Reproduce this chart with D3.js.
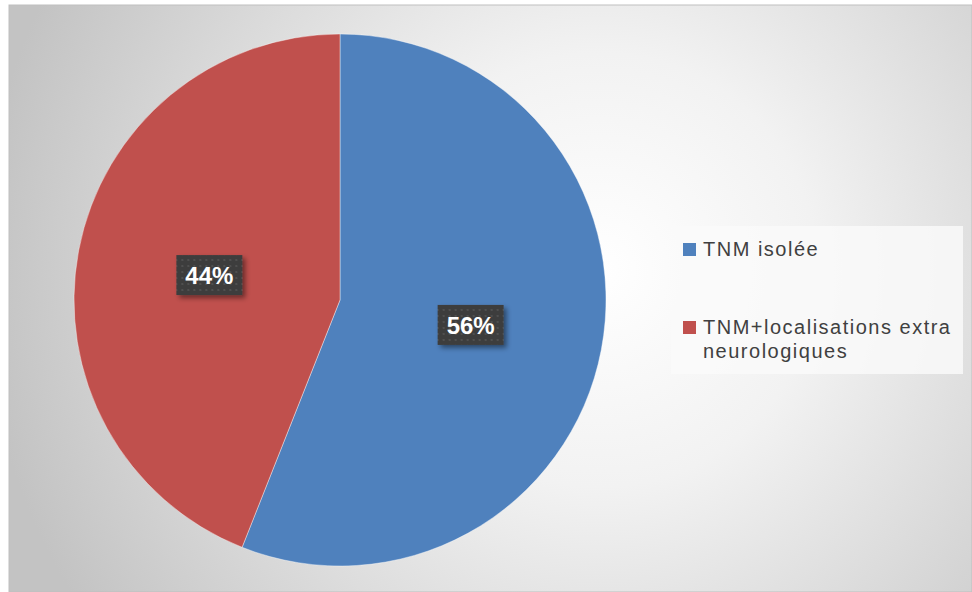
<!DOCTYPE html>
<html>
<head>
<meta charset="utf-8">
<script src="https://cdn.jsdelivr.net/npm/d3@7"></script>
<style>
  html, body { margin: 0; padding: 0; background: #ffffff; }
  svg { display: block; }
</style>
</head>
<body>
<svg id="chart" width="972" height="592"></svg>
<script>
// Categories and shares of the pie
const categories = ["TNM isolée", "TNM+localisations extra neurologiques"];
const values = [56, 44];
const labelText = ["56%", "44%"];
const legendLines = [["TNM isolée"], ["TNM+localisations extra", "neurologiques"]];
const colors = ["#4f81bd", "#c0504d"];

const svg = d3.select("#chart");
const W = 972, H = 592;
const defs = svg.append("defs");

// Background: radial white-to-grey fill of the chart area
const bg = defs.append("radialGradient").attr("id", "bgGrad")
  .attr("gradientUnits", "userSpaceOnUse")
  .attr("cx", 600).attr("cy", 270).attr("r", 620);
bg.append("stop").attr("offset", "0%").attr("stop-color", "#ffffff");
bg.append("stop").attr("offset", "35%").attr("stop-color", "#f2f2f2");
bg.append("stop").attr("offset", "100%").attr("stop-color", "#c3c3c3");

// Dotted dark fill for the data labels
const pat = defs.append("pattern").attr("id", "dots")
  .attr("patternUnits", "userSpaceOnUse").attr("width", 6).attr("height", 6);
pat.append("rect").attr("width", 6).attr("height", 6).attr("fill", "#3d3d3d");
pat.append("rect").attr("x", 2).attr("y", 2).attr("width", 2).attr("height", 2).attr("fill", "#505050");

const shadow = defs.append("filter").attr("id", "shadow")
  .attr("x", "-30%").attr("y", "-30%").attr("width", "160%").attr("height", "170%");
shadow.append("feDropShadow").attr("dx", 3).attr("dy", 3).attr("stdDeviation", 2.5)
  .attr("flood-color", "#000").attr("flood-opacity", 0.45);

svg.append("rect").attr("x", 9).attr("y", 5).attr("width", W - 9).attr("height", H - 5)
  .attr("fill", "url(#bgGrad)").attr("stroke", "#bfbfbf").attr("stroke-width", 1);

// Pie
const cx = 340, cy = 300, radius = 266;
const pie = d3.pie().sort(null).value(d => d)(values);
const arc = d3.arc().innerRadius(0).outerRadius(radius);
const labelArc = d3.arc().innerRadius(radius * 0.5).outerRadius(radius * 0.5);

const g = svg.append("g").attr("transform", `translate(${cx},${cy})`);
g.selectAll("path.slice").data(pie).join("path")
  .attr("class", "slice")
  .attr("d", arc)
  .attr("fill", (d, i) => colors[i])
  .attr("stroke", "rgba(255,255,255,0.5)")
  .attr("stroke-width", 0.8);

// Data labels
const lbl = g.selectAll("g.lbl").data(pie).join("g")
  .attr("class", "lbl")
  .attr("transform", d => `translate(${labelArc.centroid(d)})`);
lbl.append("rect")
  .attr("x", -33).attr("y", -20).attr("width", 66).attr("height", 40)
  .attr("fill", "url(#dots)")
  .attr("filter", "url(#shadow)");
lbl.append("text")
  .attr("text-anchor", "middle").attr("dy", "0.36em")
  .attr("font-family", "Liberation Sans, Arial, sans-serif")
  .attr("font-weight", "bold").attr("font-size", 24)
  .attr("fill", "#ffffff")
  .text((d, i) => labelText[i]);

// Legend
const legend = svg.append("g");
legend.append("rect").attr("x", 671).attr("y", 226).attr("width", 292).attr("height", 148)
  .attr("fill", "rgba(250,250,250,0.82)");
const items = legend.selectAll("g.item").data(categories).join("g")
  .attr("class", "item")
  .attr("transform", (d, i) => `translate(683, ${i === 0 ? 256 : 334})`);
items.append("rect").attr("x", 0).attr("y", -13).attr("width", 13).attr("height", 13)
  .attr("fill", (d, i) => colors[i]);
items.each(function (d, i) {
  const t = d3.select(this).append("text")
    .attr("font-family", "Liberation Sans, Arial, sans-serif")
    .attr("font-size", 20).attr("letter-spacing", 1.5).attr("fill", "#404040");
  legendLines[i].forEach((line, k) => {
    t.append("tspan").attr("x", 20).attr("y", k * 24).text(line);
  });
});
</script>
</body>
</html>
